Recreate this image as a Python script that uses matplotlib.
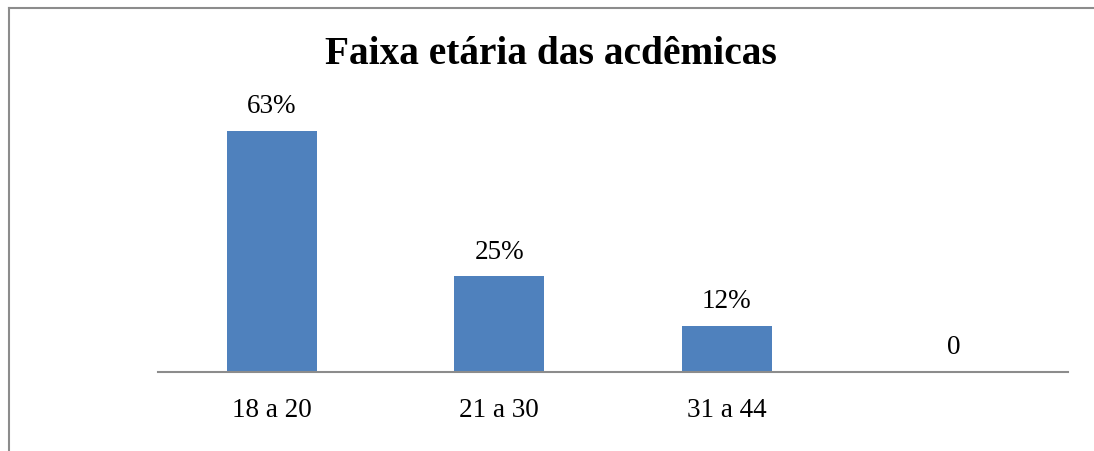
import matplotlib.pyplot as plt
from matplotlib.lines import Line2D

categorias = ["18 a 20", "21 a 30", "31 a 44", ""]
valores = [63, 25, 12, 0]
rotulos = ["63%", "25%", "12%", "0"]
titulo = "Faixa etária das acdêmicas"

plt.rcParams['font.family'] = ['Liberation Serif', 'DejaVu Serif']

fig = plt.figure(figsize=(10.94, 4.51), dpi=100)
ax = fig.add_axes([158/1094, 1 - 372/451, 910/1094, 272/451])

x = range(len(categorias))
ax.bar(x, valores, width=0.396, color='#4F81BD')
ax.set_xlim(-0.5, len(categorias) - 0.5)
ax.set_ylim(0, 71.1)

for xi, v, r in zip(x, valores, rotulos):
    ax.annotate(r, (xi, v), xytext=(0, 17.5), textcoords='offset points',
                ha='center', va='center', fontsize=19.5)

ax.set_xticks(list(x))
ax.set_xticklabels(categorias, fontsize=19.5)
ax.tick_params(axis='x', length=0, pad=18.5)
ax.set_yticks([])
for s in ['left', 'right', 'top']:
    ax.spines[s].set_visible(False)
ax.spines['bottom'].set_color('#8c8c8c')
ax.spines['bottom'].set_linewidth(1.5)

fig.text(551/1094, 1 - 54/451, titulo, ha='center', va='center',
         fontsize=28.4, fontweight='bold')

# moldura do grafico (so esquerda e topo visiveis)
fig.add_artist(Line2D([8.5/1094, 8.5/1094], [0, 1 - 7.5/451], transform=fig.transFigure,
                      color='#8c8c8c', lw=1.5))
fig.add_artist(Line2D([8.5/1094, 1], [1 - 7.5/451, 1 - 7.5/451], transform=fig.transFigure,
                      color='#8c8c8c', lw=1.5))

fig.savefig('out.png', dpi=100)
